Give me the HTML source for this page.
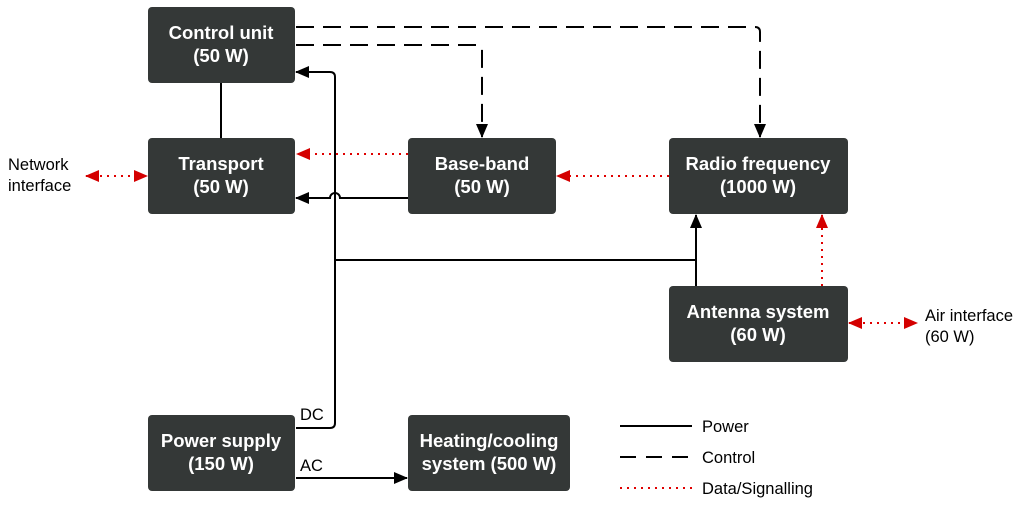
<!DOCTYPE html>
<html><head><style>
body{margin:0;background:#fff;width:1024px;height:506px;overflow:hidden}
svg{font-family:"Liberation Sans",sans-serif}
.b{fill:#343837}
.t{fill:#fff;font-weight:bold;font-size:18.5px;text-anchor:middle}
.l{font-size:16.5px;fill:#000}
</style></head><body>
<svg width="1024" height="506" viewBox="0 0 1024 506">
<defs>
<marker id="ak" markerWidth="14" markerHeight="12" refX="13" refY="6" orient="auto" markerUnits="userSpaceOnUse"><path d="M0,0L14,6L0,12z" fill="#000"/></marker>
<marker id="ar" markerWidth="14" markerHeight="12" refX="13" refY="6" orient="auto" markerUnits="userSpaceOnUse"><path d="M0,0L14,6L0,12z" fill="#d40000"/></marker>
<marker id="ars" markerWidth="14" markerHeight="12" refX="1" refY="6" orient="auto" markerUnits="userSpaceOnUse"><path d="M14,0L0,6L14,12z" fill="#d40000"/></marker>
</defs>
<g fill="none" stroke="#000" stroke-width="2">
<path d="M221,83V138"/>
<path d="M310,72H330Q335,72 335,77V423Q335,428 330,428H296"/>
<path d="M312,72H296" marker-end="url(#ak)"/>
<path d="M408,198H340A5,5 0 0 0 330,198H296" marker-end="url(#ak)"/>
<path d="M335,260H696V215" marker-end="url(#ak)"/>
<path d="M696,286V260"/>
<path d="M296,478H407" marker-end="url(#ak)"/>
<path d="M296,27H755Q760,27 760,32V137" stroke-dasharray="18,9" marker-end="url(#ak)"/>
<path d="M296,45H477Q482,45 482,50V137" stroke-dasharray="18,9" marker-end="url(#ak)"/>
<path d="M620,426H692"/>
<path d="M620,457H692" stroke-dasharray="16,10"/>
</g>
<g fill="none" stroke="#e00000" stroke-width="2" stroke-dasharray="2,5">
<path d="M408,154H297" marker-end="url(#ar)"/>
<path d="M669,176H557" marker-end="url(#ar)"/>
<path d="M86,176H147" marker-start="url(#ars)" marker-end="url(#ar)"/>
<path d="M822,286V215" marker-end="url(#ar)"/>
<path d="M849,323H917" marker-start="url(#ars)" marker-end="url(#ar)"/>
<path d="M620,488H692"/>
</g>
<rect class="b" x="148" y="7" width="147" height="76" rx="4"/>
<rect class="b" x="148" y="138" width="147" height="76" rx="4"/>
<rect class="b" x="408" y="138" width="148" height="76" rx="4"/>
<rect class="b" x="669" y="138" width="179" height="76" rx="4"/>
<rect class="b" x="669" y="286" width="179" height="76" rx="4"/>
<rect class="b" x="148" y="415" width="147" height="76" rx="4"/>
<rect class="b" x="408" y="415" width="162" height="76" rx="4"/>
<text class="t" x="221" y="39">Control unit</text><text class="t" x="221" y="62">(50 W)</text>
<text class="t" x="221" y="170">Transport</text><text class="t" x="221" y="193">(50 W)</text>
<text class="t" x="482" y="170">Base-band</text><text class="t" x="482" y="193">(50 W)</text>
<text class="t" x="758" y="170">Radio frequency</text><text class="t" x="758" y="193">(1000 W)</text>
<text class="t" x="758" y="318">Antenna system</text><text class="t" x="758" y="341">(60 W)</text>
<text class="t" x="221" y="447">Power supply</text><text class="t" x="221" y="470">(150 W)</text>
<text class="t" x="489" y="447">Heating/cooling</text><text class="t" x="489" y="470">system (500 W)</text>
<text class="l" x="8" y="170">Network</text><text class="l" x="8" y="191">interface</text>
<text class="l" x="925" y="321">Air interface</text><text class="l" x="925" y="342">(60 W)</text>
<text class="l" x="300" y="420">DC</text><text class="l" x="300" y="471">AC</text>
<text class="l" x="702" y="432">Power</text>
<text class="l" x="702" y="463">Control</text>
<text class="l" x="702" y="494">Data/Signalling</text>
</svg>
</body></html>
